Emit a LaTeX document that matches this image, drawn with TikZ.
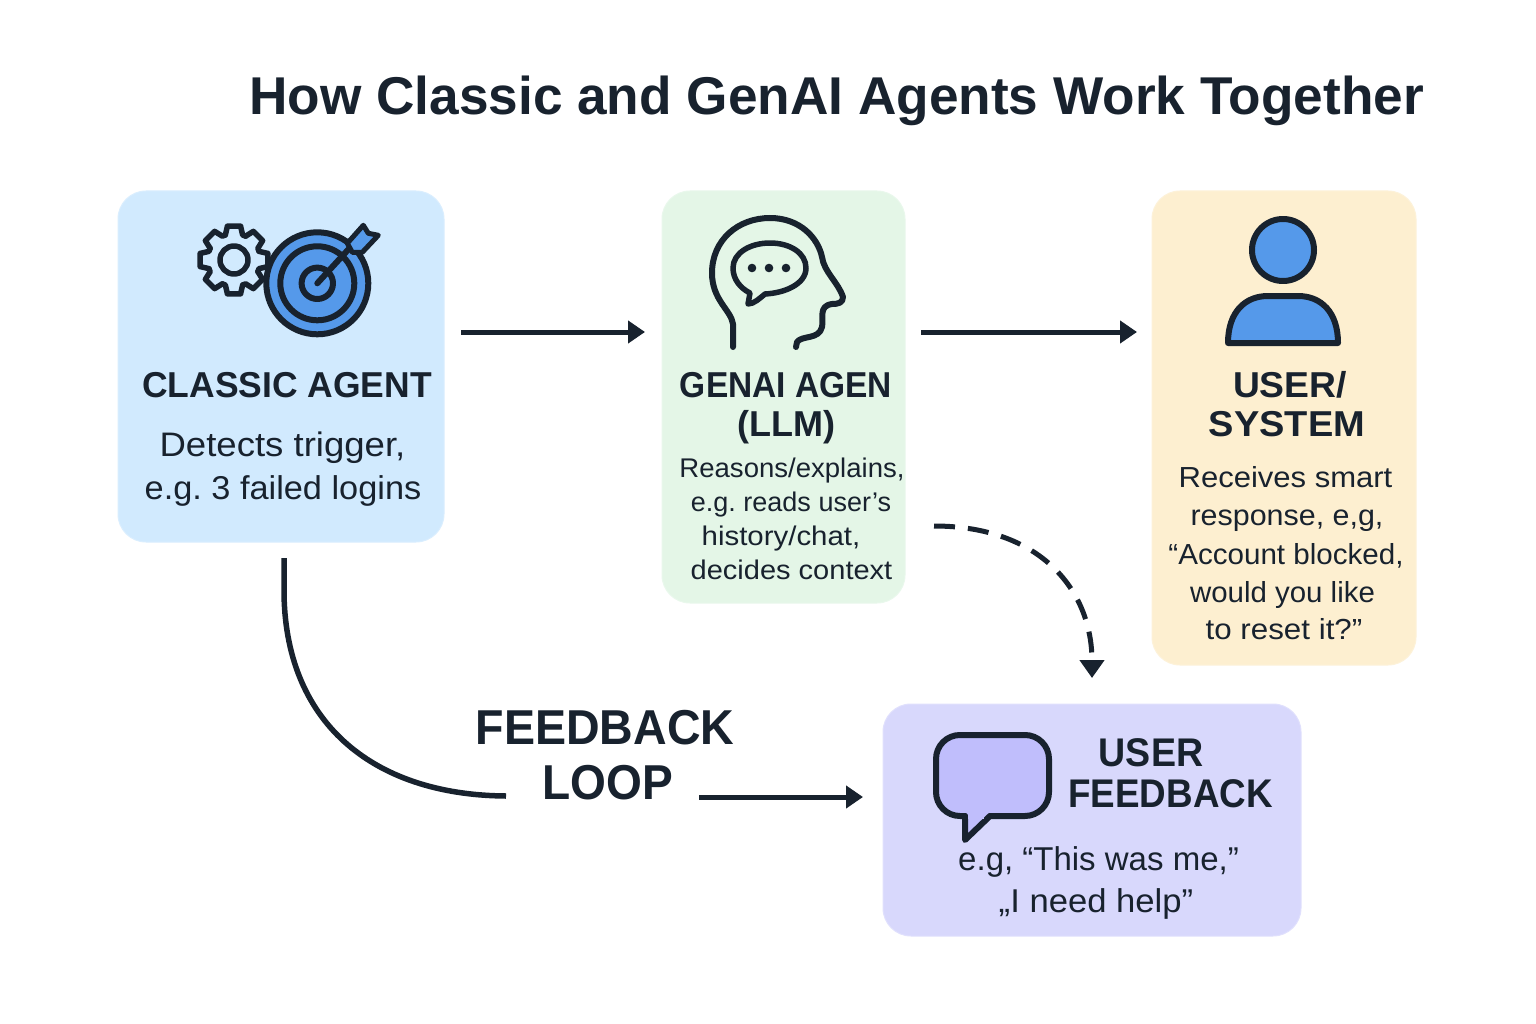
\documentclass[tikz,border=0pt]{standalone}
\usepackage{graphicx}
\usepackage{fontspec}
\setmainfont{Liberation Sans}
\usetikzlibrary{arrows.meta}
\definecolor{ink}{HTML}{18222E}
\definecolor{iconblue}{HTML}{5599EA}
\definecolor{bubblefill}{HTML}{C0BEFC}
\definecolor{cbox}{HTML}{D1EAFE}
\definecolor{gbox}{HTML}{E4F6E7}
\definecolor{ubox}{HTML}{FDEFD0}
\definecolor{fbox}{HTML}{D8D8FC}
\newcommand{\fsz}[1]{\fontsize{#1}{#1}\selectfont}
\newcommand{\xs}[2]{\scalebox{#1}[1]{#2}}
\tikzset{
  panel/.style={rectangle,rounded corners=28pt,inner sep=0pt,outer sep=0pt,line width=1pt},
  txt/.style={anchor=base,inner sep=0pt,outer sep=0pt,text=ink},
  hd/.style={txt,font=\fsz{36}\bfseries},
  icon/.style={draw=ink,line width=6pt,line join=round,line cap=round},
  flow/.style={draw=ink,line width=5pt,-{Triangle[length=17pt,width=22pt]}},
}
\begin{document}
\frenchspacing
\begin{tikzpicture}[x=1pt,y=-1pt]
\useasboundingbox (0,0) rectangle (1536,1024);
\fill[white] (0,0) rectangle (1536,1024);
% panels
\node[panel,fill=cbox,draw=cbox!80!white,minimum width=326pt,minimum height=351pt] (classic) at (281,366.5) {};
\node[panel,fill=gbox,draw=gbox!80!white,minimum width=243pt,minimum height=412pt] (genai) at (783.5,397) {};
\node[panel,fill=ubox,draw=ubox!80!white,minimum width=264pt,minimum height=474pt] (user) at (1284,428) {};
\node[panel,fill=fbox,draw=fbox!80!white,minimum width=418pt,minimum height=232pt] (feedback) at (1092,820) {};
% title
\node[txt,font=\fsz{53.2}\bfseries] (title) at (836.5,114.5) {How Classic and GenAI Agents Work Together};
% classic text
\node[hd] (classicT) at (287,397) {\xs{0.985}{CLASSIC AGENT}};
\node[txt,font=\fsz{34}] (classicA) at (282.5,456) {\xs{1.075}{Detects trigger,}};
\node[txt,font=\fsz{33}] (classicB) at (283,499) {\xs{1.04}{e.g. 3 failed logins}};
% genai text
\node[hd] (genaiA) at (786,397) {\xs{0.93}{GENAI AGEN}};
\node[hd] (genaiB) at (786,436) {(LLM)};
\node[txt,font=\fsz{27}] (genaiC) at (792,477) {\xs{1.02}{Reasons/explains,}};
\node[txt,font=\fsz{27}] (genaiD) at (791,511) {e.g. reads user’s};
\node[txt,font=\fsz{27}] (genaiE) at (781,545) {\xs{1.09}{history/chat,}};
\node[txt,font=\fsz{27}] (genaiF) at (791.5,579) {\xs{1.075}{decides context}};
% user text
\node[hd] (userA) at (1290,397) {\xs{1.035}{USER/}};
\node[hd] (userB) at (1287,436) {\xs{1.055}{SYSTEM}};
\node[txt,font=\fsz{29}] (userC) at (1285.5,487) {\xs{1.07}{Receives smart}};
\node[txt,font=\fsz{29}] (userD) at (1287,525) {\xs{1.05}{response, e,g,}};
\node[txt,font=\fsz{29}] (userE) at (1286,564) {\xs{1.02}{“Account blocked,}};
\node[txt,font=\fsz{29}] (userF) at (1282.5,602) {\xs{1.015}{would you like}};
\node[txt,font=\fsz{29}] (userG) at (1284,639) {\xs{1.08}{to reset it?”}};
% feedback text
\node[txt,font=\fsz{40}\bfseries] (fbA) at (1151,766.5) {\xs{0.94}{USER}};
\node[txt,font=\fsz{40}\bfseries] (fbB) at (1170.5,807.5) {\xs{0.92}{FEEDBACK}};
\node[txt,font=\fsz{33}] (fbC) at (1098.5,870) {e.g, “This was me,”};
\node[txt,font=\fsz{33}] (fbD) at (1096,912) {\xs{1.05}{„I need help”}};
% loop label
\node[txt,font=\fsz{49}\bfseries] (loopA) at (605,744.5) {\xs{0.95}{FEEDBACK}};
\node[txt,font=\fsz{49}\bfseries] (loopB) at (608,799) {\xs{0.94}{LOOP}};
\coordinate (loopin) at (506,796);
\coordinate (loopout) at (699,797);
% connectors
\draw[flow] ([shift={(17,-34.5)}]classic.east) -- ([shift={(-17,-65)}]genai.west);
\draw[flow] ([shift={(16,-65)}]genai.east) -- ([shift={(-15,-96)}]user.west);
\draw[draw=ink,line width=5pt,dash pattern=on 21pt off 13pt,-{Triangle[length=18pt,width=24pt]}]
  ([shift={(29,129)}]genai.east) .. controls (1040,526) and (1092,590) .. ([shift={(0,-26)}]feedback.north);
\draw[draw=ink,line width=5.5pt] ([shift={(3,16)}]classic.south) -- (284,590) .. controls (284,720) and (370,795) .. (loopin);
\draw[flow] (loopout) -- ([shift={(-20,-23)}]feedback.west);
% gear
\begin{scope}[shift={(234,260)}]
  \foreach \a in {0,45,...,315}{
    \draw[icon,line width=5.5pt] (\a-19:26.5) -- (\a-11:34.5) -- (\a+11:34.5) -- (\a+19:26.5) -- (\a+26:26.5);
  }
  \draw[icon,line width=5.5pt] (0,0) circle (14);
\end{scope}
% target
\begin{scope}[shift={(317.3,283.3)}]
  \draw[icon,fill=iconblue] (0,0) circle (51);
  \draw[icon] (0,0) circle (37);
  \draw[icon] (0,0) circle (15.7);
  \draw[icon] (0,0) -- (33,-36);
  \draw[icon,line width=5pt,fill=iconblue] (30,-40) -- (46,-58) -- (51,-50) -- (61,-48) -- (45,-31) -- (35,-31) -- cycle;
\end{scope}
% head
\draw[icon] (733,347) -- (733,324) .. controls (731,310) and (712,300) .. (712,273)
  .. controls (712,240) and (738,218) .. (770,218)
  .. controls (800,218) and (818,238) .. (822,257)
  .. controls (824,272) and (838,282) .. (843,297)
  .. controls (843,303) and (838,304) .. (832,304)
  .. controls (818,306) and (824,318) .. (822,327)
  .. controls (819,340) and (802,335) .. (797,342) -- (796,347);
\draw[icon,line width=5.5pt] (748,304) -- (750,293) .. controls (740,288) and (733,279) .. (733,268)
  .. controls (733,253) and (750,243) .. (770,243)
  .. controls (790,243) and (806,253) .. (806,268)
  .. controls (806,284) and (785,293) .. (765,294) .. controls (760,298) and (754,304) .. (748,304) -- cycle;
\foreach \dx in {752,769,786}{\fill[ink] (\dx,268) circle (4.3);}
% person
\draw[icon,fill=iconblue] (1283,250) circle (31);
\draw[icon,line cap=butt,fill=iconblue] (1228,343) .. controls (1228,312) and (1245,296) .. (1268,296) -- (1298,296) .. controls (1321,296) and (1338,312) .. (1338,343) -- cycle;
% speech bubble
\draw[icon,fill=bubblefill,rounded corners=24pt] (965,816) -- (936,816) -- (936,735) -- (1049,735) -- (1049,816) -- (990,816);
\path[fill=bubblefill] (960,800) rectangle (1000,813);
\draw[icon,fill=bubblefill] (965,816) -- (965,840) -- (990,816);
\path[fill=bubblefill] (968,812) rectangle (984,819);
\end{tikzpicture}
\end{document}
